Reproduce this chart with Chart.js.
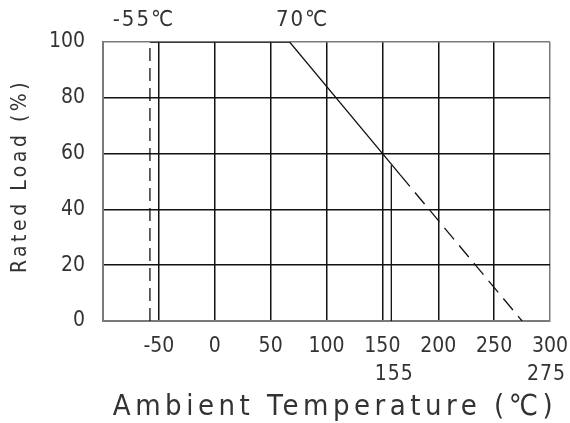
<!DOCTYPE html>
<html>
<head>
<meta charset="utf-8">
<script src="https://cdn.jsdelivr.net/npm/chart.js@4/dist/chart.umd.min.js"></script>
<style>
  html, body { margin: 0; padding: 0; background: #fff; }
  #wrap { width: 570px; height: 423px; }
</style>
</head>
<body>
<div id="wrap"><canvas id="derating"></canvas></div>
<script>
// axis ticks
const xTickValues = [-100, -50, 0, 50, 100, 150, 200, 250, 300];
const yTickValues = [0, 20, 40, 60, 80, 100];
const xExtraTicks = ["155", "275"];
const xExtraValues = [158, 275];

// derating curve (solid part, then dashed part)
const curveTemp = [-58, 67, 166];
const curveLoad = [100, 100, 52.4];
const dashTemp = [166, 275];
const dashLoad = [52.4, 0];

// marker verticals
const minTemp = [-58, -58];
const minLoad = [0, 100];
const limTemp = [158, 158];
const limLoad = [0, 55.8];

const topLabels = ["-55℃", "70℃"];
const topLabelValues = [-58, 67];

const zip = (xs, ys) => xs.map((v, i) => ({ x: v, y: ys[i] }));
const FONT = '"Liberation Sans Narrow", "DejaVu Sans Condensed", sans-serif';
const INK = "#111";
const FRAME = "#7a7a7a";
const TEXT = "#333";

const extraText = {
  id: "extraText",
  afterDraw(chart) {
    const { ctx, scales: { x } } = chart;
    ctx.save();
    ctx.fillStyle = TEXT;
    ctx.textBaseline = "middle";
    ctx.font = "21px " + FONT;
    ctx.letterSpacing = "1px";

    // second row of temperature labels
    ctx.textAlign = "center";
    ctx.fillText(xExtraTicks[0], x.getPixelForValue(xExtraValues[0]) + 3, 375);
    ctx.textAlign = "left";
    ctx.fillText(xExtraTicks[1], x.getPixelForValue(xExtraValues[1]) + 5, 375);

    // labels above the frame
    ctx.font = "22px " + FONT;
    ctx.letterSpacing = "2px";
    ctx.textAlign = "center";
    ctx.fillText(topLabels[0], x.getPixelForValue(topLabelValues[0]) - 6, 20);
    ctx.fillText(topLabels[1], x.getPixelForValue(topLabelValues[1]) + 13, 20);

    // axis titles
    ctx.font = "29px " + FONT;
    ctx.letterSpacing = "4.5px";
    ctx.fillText("Ambient Temperature (℃)", 335, 407);

    ctx.translate(21, 176);
    ctx.rotate(-Math.PI / 2);
    ctx.font = "21px " + FONT;
    ctx.letterSpacing = "3.5px";
    ctx.fillText("Rated Load (%)", 0, 0);
    ctx.restore();
  }
};

const lineDs = (data, dash) => ({
  data,
  borderColor: INK,
  borderWidth: 1.3,
  borderDash: dash || [],
  pointRadius: 0,
  fill: false,
  tension: 0
});

new Chart(document.getElementById("derating"), {
  type: "line",
  data: {
    datasets: [
      lineDs(zip(curveTemp, curveLoad)),
      lineDs(zip(dashTemp, dashLoad), [15, 8]),
      lineDs(zip(minTemp, minLoad), [13, 7]),
      lineDs(zip(limTemp, limLoad))
    ]
  },
  options: {
    responsive: true,
    maintainAspectRatio: false,
    animation: false,
    layout: { padding: { top: 42, right: 20, left: 0, bottom: 0 } },
    plugins: { legend: { display: false }, tooltip: { enabled: false } },
    scales: {
      x: {
        type: "linear",
        min: -100,
        max: 300,
        afterBuildTicks: s => { s.ticks = xTickValues.map(v => ({ value: v })); },
        afterFit: s => { s.height = 102; s.paddingLeft = 0; s.paddingRight = 0; },
        ticks: {
          padding: 13,
          maxRotation: 0,
          autoSkip: false,
          color: TEXT,
          font: { family: FONT, size: 21 },
          callback: v => (v === -100 ? "" : String(v))
        },
        grid: {
          drawTicks: false,
          lineWidth: 1.5,
          color: c => (c.tick && (c.tick.value === -100 || c.tick.value === 300) ? FRAME : INK)
        },
        border: { display: true, color: FRAME, width: 2 }
      },
      y: {
        min: 0,
        max: 100,
        afterBuildTicks: s => { s.ticks = yTickValues.map(v => ({ value: v })); },
        afterFit: s => { s.width = 103; s.paddingTop = 0; s.paddingBottom = 0; },
        ticks: {
          padding: 18,
          color: TEXT,
          font: { family: FONT, size: 21 }
        },
        grid: {
          drawTicks: false,
          lineWidth: 1.5,
          color: c => (c.tick && (c.tick.value === 0 || c.tick.value === 100) ? FRAME : INK)
        },
        border: { display: true, color: FRAME, width: 2 }
      }
    }
  },
  plugins: [extraText]
});
</script>
</body>
</html>
